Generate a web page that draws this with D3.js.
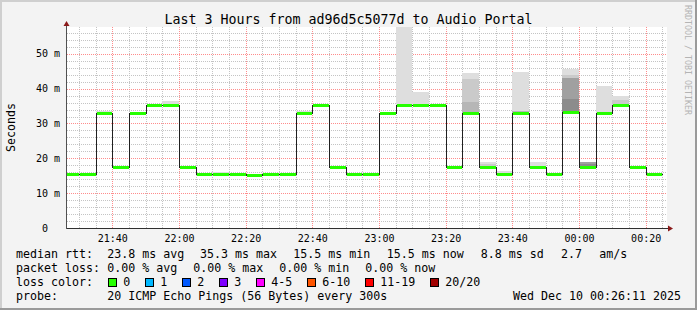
<!DOCTYPE html>
<html><head><meta charset="utf-8">
<script src="https://cdn.jsdelivr.net/npm/d3@7"></script>
<style>
html,body{margin:0;padding:0;background:#f3f3f3}
svg{display:block}
text{font-family:"DejaVu Sans Mono",monospace;white-space:pre;fill:#000}
</style>
</head><body><svg id="c" width="697" height="310"></svg>
<script>
// ---------- data ----------
const intervalStarts = ["21:25","21:30","21:35","21:40","21:45","21:50","21:55","22:00","22:05","22:10","22:15","22:20",
  "22:25","22:30","22:35","22:40","22:45","22:50","22:55","23:00","23:05","23:10","23:15","23:20",
  "23:25","23:30","23:35","23:40","23:45","23:50","23:55","00:00","00:05","00:10","00:15","00:20"];
const medianRtt = [15.6,15.6,33.1,17.6,33.1,35.2,35.2,17.6,15.6,15.6,15.6,15.3,
  15.5,15.6,33.1,35.2,17.6,15.6,15.4,33.1,35.4,35.4,35.2,17.6,
  33.1,17.6,15.6,33.1,17.6,15.6,33.3,17.6,33.1,35.2,17.6,15.4];
// smoke band tops (ms), outermost (lightest) to innermost (darkest); null = none
const smokeBand1 = [null,null,33.7,null,null,null,36.5,null,null,16.1,null,null,
  null,null,33.6,null,null,null,null,null,60,39.1,null,null,
  44.6,18.9,16.4,44.8,18.9,null,45.5,null,40.8,37.8,null,null];
const smokeBand2 = [null,null,null,null,null,null,null,null,null,null,null,null,
  null,null,null,null,null,null,null,null,null,null,null,null,
  42.8,18.4,null,null,null,null,43.9,null,null,36.8,null,null];
const smokeBand3 = [null,null,null,null,null,null,null,null,null,null,null,null,
  null,null,null,null,null,null,null,null,null,null,null,null,
  36.2,null,null,33.7,null,null,null,null,null,null,null,null];
const smokeBand4 = [null,null,null,null,null,null,null,null,null,null,null,null,
  null,null,null,null,null,null,null,null,null,null,null,null,
  null,null,null,null,null,null,43.2,18.9,null,null,null,null];
const smokeBand5 = [null,null,null,null,null,null,null,null,null,null,null,null,
  null,null,null,null,null,null,null,null,null,null,null,null,
  null,null,null,null,null,null,36.9,18.4,null,null,null,null];
const yTicks = [0,10,20,30,40,50];
const yTickLabels = ["0  ","10 m","20 m","30 m","40 m","50 m"];
const lossLabels = ["0","1","2","3","4-5","6-10","11-19","20/20"];
const rttLegend = ["median rtt:","23.8 ms avg","35.3 ms max","15.5 ms min","15.5 ms now","8.8 ms sd","2.7","am/s"];
const lossLegend = ["packet loss:","0.00 % avg","0.00 % max","0.00 % min","0.00 % now"];
const lossColorTitle = "loss color:";
const probeLegend = ["probe:","20 ICMP Echo Pings (56 Bytes) every 300s"];
const titleText = "Last 3 Hours from ad96d5c5077d to Audio Portal";
const yAxisTitle = "Seconds";
const dateText = "Wed Dec 10 00:26:11 2025";
const watermark = "RRDTOOL / TOBI OETIKER";

// ---------- layout / styles ----------
const rttLegendX = [16,107.3,200,293.3,386.7,480.7,561,599.3];
const lossLegendX = [16,107.3,193.3,279.3,365.3];
const probeLegendX = [16,107.3];
const lossColors = ["#26ff00","#00b8ff","#0059ff","#7e00ff","#ff00ff","#ff5500","#ff0000","#a10000"];
const smokeColors = ["#dedede","#cacaca","#b6b6b6","#a0a0a0","#8c8c8c"];
const W = 697, H = 310;
const L = 67, R = 667, T = 27, B = 228;

function parseT(s){const [h,m]=s.split(":").map(Number);return new Date(2025,11,h<12?10:9,h,m,0);}
const starts = intervalStarts.map(parseT);
const ends = starts.map(d=>d3.timeMinute.offset(d,5));

const x = d3.scaleTime().domain([new Date(2025,11,9,21,26,24), new Date(2025,11,10,0,26,24)]).range([L,R]);
const y = d3.scaleLinear().domain([0,57.7]).range([B,T]);

const svg = d3.select("#c");
// background + frame
svg.append("rect").attr("width",W).attr("height",H).attr("fill","#f3f3f3");
svg.append("rect").attr("x",0).attr("y",0).attr("width",W).attr("height",2).attr("fill","#cfcfcf");
svg.append("rect").attr("x",0).attr("y",0).attr("width",2).attr("height",H).attr("fill","#cfcfcf");
svg.append("rect").attr("x",0).attr("y",H-2).attr("width",W).attr("height",2).attr("fill","#9a9a9a");
svg.append("rect").attr("x",W-2).attr("y",0).attr("width",2).attr("height",H).attr("fill","#9a9a9a");

svg.append("rect").attr("x",L).attr("y",T).attr("width",R-L).attr("height",B-T).attr("fill","#ffffff");

svg.append("defs").append("clipPath").attr("id","pc").append("rect")
  .attr("x",L).attr("y",T).attr("width",R-L).attr("height",B-T);

// grid
const g = svg.append("g").attr("shape-rendering","crispEdges");
const minorX = d3.timeMinute.every(5).range(x.domain()[0], x.domain()[1]).filter(d=>d.getMinutes()%20!==0);
const majorX = d3.timeMinute.every(20).range(x.domain()[0], x.domain()[1]);
const minorY = d3.range(2,57.7,2).filter(v=>v%10!==0);
const majorY = yTicks.filter(v=>v>0);
g.selectAll(".mx").data(minorX).join("line")
  .attr("x1",d=>Math.round(x(d))+0.5).attr("x2",d=>Math.round(x(d))+0.5).attr("y1",T).attr("y2",B)
  .attr("stroke","#c4c4c4").attr("stroke-dasharray","1,1");
g.selectAll(".my").data(minorY).join("line")
  .attr("y1",d=>Math.round(y(d))+0.5).attr("y2",d=>Math.round(y(d))+0.5).attr("x1",L).attr("x2",R)
  .attr("stroke","#c4c4c4").attr("stroke-dasharray","1,1");
g.selectAll(".Mx").data(majorX).join("line")
  .attr("x1",d=>Math.round(x(d))+0.5).attr("x2",d=>Math.round(x(d))+0.5).attr("y1",T).attr("y2",B)
  .attr("stroke","#ff8c8c").attr("stroke-dasharray","1,1");
g.selectAll(".My").data(majorY).join("line")
  .attr("y1",d=>Math.round(y(d))+0.5).attr("y2",d=>Math.round(y(d))+0.5).attr("x1",L).attr("x2",R)
  .attr("stroke","#ff8c8c").attr("stroke-dasharray","1,1");

// smoke
const plot = svg.append("g").attr("clip-path","url(#pc)").attr("shape-rendering","crispEdges");
[smokeBand1,smokeBand2,smokeBand3,smokeBand4,smokeBand5].forEach((band,k)=>{
  const idx = d3.range(band.length).filter(i=>band[i]!=null);
  plot.append("g").selectAll("rect").data(idx).join("rect")
    .attr("x",i=>Math.round(x(starts[i]))).attr("width",i=>Math.round(x(ends[i]))-Math.round(x(starts[i])))
    .attr("y",i=>Math.round(y(band[i]))).attr("height",i=>Math.max(0,Math.round(y(medianRtt[i]))-Math.round(y(band[i]))))
    .attr("fill",smokeColors[k]);
});

// median step line
const pts = starts.map((d,i)=>[Math.round(x(d))+0.5, Math.round(y(medianRtt[i]))+0.5]);
pts.push([Math.round(x(ends[ends.length-1]))+0.5, Math.round(y(medianRtt[medianRtt.length-1]))+0.5]);
plot.append("path").attr("d",d3.line().curve(d3.curveStepAfter)(pts))
  .attr("fill","none").attr("stroke","#202020").attr("stroke-width",1);
// loss-coloured median band (0 loss everywhere)
plot.append("g").selectAll("rect").data(medianRtt).join("rect")
  .attr("x",(d,i)=>Math.round(x(starts[i]))+1).attr("width",(d,i)=>Math.round(x(ends[i]))-Math.round(x(starts[i]))-1)
  .attr("y",d=>Math.round(y(d))-1).attr("height",3).attr("fill",lossColors[0]);

// axes
const ax = svg.append("g").attr("shape-rendering","crispEdges");
ax.append("line").attr("x1",L).attr("x2",R+2).attr("y1",B+0.5).attr("y2",B+0.5).attr("stroke","#303030");
ax.append("line").attr("x1",L-0.5).attr("x2",L-0.5).attr("y1",B+1).attr("y2",T-3).attr("stroke","#505050");
svg.append("path").attr("d",`M${R+1},${B-2.5}L${R+6},${B+0.5}L${R+1},${B+3.5}Z`).attr("fill","#8b1a1a");
svg.append("path").attr("d",`M${L-3.5},${T-1}L${L-0.5},${T-6}L${L+2.5},${T-1}Z`).attr("fill","#8b1a1a");

// tick labels
svg.append("g").selectAll("text").data(yTicks).join("text")
  .attr("x",60).attr("y",d=>y(d)+3.5).attr("text-anchor","end").attr("font-size","10px")
  .text((d,i)=>yTickLabels[i]);
svg.append("g").selectAll("text").data(majorX).join("text")
  .attr("x",d=>x(d)+0.5).attr("y",241.5).attr("text-anchor","middle").attr("font-size","10px")
  .text(d=>d3.timeFormat("%H:%M")(d));

// title, axis title, watermark
svg.append("text").attr("x",348.5).attr("y",24).attr("text-anchor","middle").attr("font-size","13.3px").text(titleText);
svg.append("text").attr("transform","translate(15,127.5) rotate(-90)").attr("text-anchor","middle")
  .attr("font-size","11.6px").text(yAxisTitle);
svg.append("text").attr("transform","translate(685,5) rotate(90)").attr("font-size","8.3px")
  .style("fill","#b4b4b4").text(watermark);

// legend
const fs = "11.63px";
const base = [257.5,271.5,285.5,299.5];
const leg = svg.append("g").attr("font-size",fs);
leg.selectAll(".r").data(rttLegend).join("text").attr("x",(d,i)=>rttLegendX[i]).attr("y",base[0]).text(d=>d);
leg.selectAll(".l").data(lossLegend).join("text").attr("x",(d,i)=>lossLegendX[i]).attr("y",base[1]).text(d=>d);
leg.append("text").attr("x",16).attr("y",base[2]).text(lossColorTitle);
leg.selectAll(".p").data(probeLegend).join("text").attr("x",(d,i)=>probeLegendX[i]).attr("y",base[3]).text(d=>d);
const cw = 7.0;
let lx = 108.3;
lossLabels.forEach((lab,i)=>{
  leg.append("rect").attr("x",Math.round(lx)+0.5).attr("y",278.5).attr("width",8).attr("height",8)
    .attr("fill",lossColors[i]).attr("stroke","#000").attr("shape-rendering","crispEdges");
  leg.append("text").attr("x",lx+15).attr("y",base[2]).text(lab);
  lx += 30 + cw*lab.length;
});
leg.append("text").attr("x",681).attr("y",base[3]).attr("text-anchor","end").text(dateText);
</script>
</body></html>
